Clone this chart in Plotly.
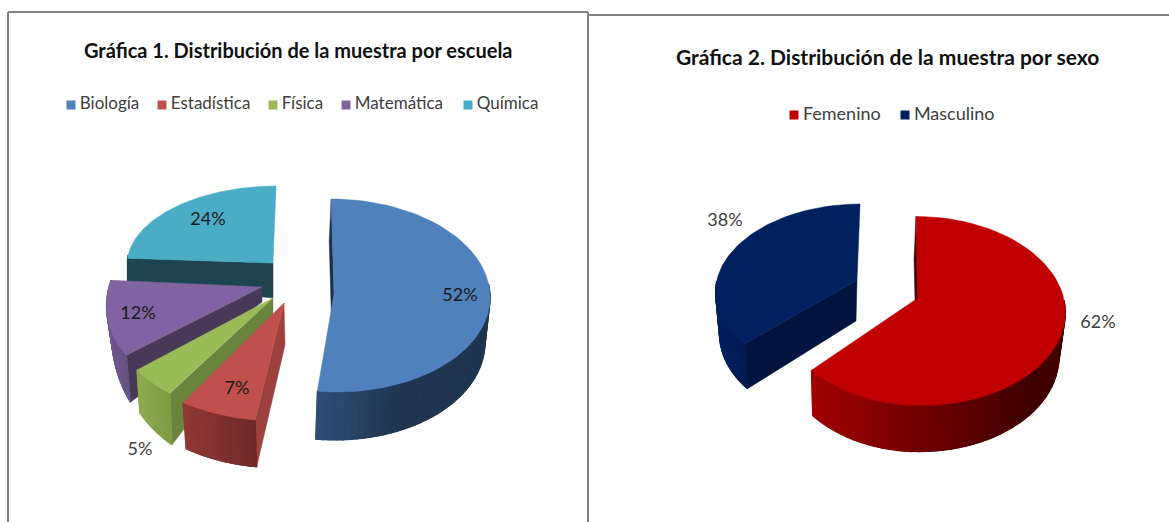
import math
import plotly.graph_objects as go

# ---- data ----
escuelas = ["Biología", "Estadística", "Física", "Matemática", "Química"]
escuela_pct = [52, 7, 5, 12, 24]
sexos = ["Femenino", "Masculino"]
sexo_pct = [62, 38]
titulo1 = "Gráfica 1. Distribución de la muestra por escuela"
titulo2 = "Gráfica 2. Distribución de la muestra por sexo"

FONT = "Lato"

# ---- look of every exploded wedge (position, radii, extrusion, colours) ----
G1 = [
    dict(ax=334, ay=294, rx=156, ry=96.5, dyc=1.5, k=.03, d=45, bx=-2, sx=.98, sy=1.03, top="#4F81BD", face="#1B2F49",
         sl="#2F4F78", sr="#1F3550", gx=(316, 400), lab=(460, 296), lc="#1a1a1a"),
    dict(ax=284, ay=303, rx=178, ry=118, k=-.056, d=42, bx=1, sx=.98, sy=1.04, top="#C0504D", face="#9C413F",
         sl="#8F3835", sr="#6E2A28", gx=(185, 256), lab=(237, 389), lc="#1a1a1a"),
    dict(ax=273, ay=298, rx=159, ry=113, k=-.187, d=16, bx=0, sx=.98, sy=1.37, top="#9BBB59", face="#6B843D",
         sl="#8CAA4F", sr="#7E9A46", gx=(140, 173), lab=(140, 450), lc="#404040"),
    dict(ax=262, ay=287, rx=153, ry=107, k=-.26, d=15, bx=0, sx=.97, sy=1.47, top="#8064A2", face="#483959",
         sl="#6F578E", sr="#64507F", gx=(107, 132), lab=(138, 314), lc="#1a1a1a"),
    dict(ax=273, ay=263, rx=146, ry=77, k=-.04, d=35, bx=0, sx=1, sy=3, top="#4BACC6", face="#1D444F",
         sl="#1D444F", sr="#1D444F", gx=(128, 273), lab=(208, 220), lc="#1a1a1a"),
]
G2 = [
    dict(ax=918, ay=298, rx=147, rxl=139, ry=94.5, dyc=13, k=.025, d=44, bx=-2, sx=.97, sy=1.02, a1=8, top="#C00000",
         face="#4A0000", sl="#A00000", sr="#400000", gx=(813, 1030), lab=(1098, 323), lc="#404040"),
    dict(ax=857, ay=280, rx=141, ry=86, dyc=10, k=-.04, d=41, bx=-1, sx=.965, sy=1.06, a0=8, top="#002060",
         face="#00143F", sl="#00205C", sr="#001A50", gx=(719, 746), lab=(725, 221), lc="#404040"),
]
DRAW1 = [4, 3, 2, 1, 0]
DRAW2 = [1, 0]

LEG1 = dict(y=105, marks=[71, 162, 273, 346, 468], size=17)
LEG2 = dict(y=115, marks=[794, 905], size=18)


def mix(a, b, f):
    f = max(0.0, min(1.0, f))
    pa = [int(a[i:i + 2], 16) for i in (1, 3, 5)]
    pb = [int(b[i:i + 2], 16) for i in (1, 3, 5)]
    return "rgb(%d,%d,%d)" % tuple(round(x + (y - x) * f) for x, y in zip(pa, pb))


def rim(g, t):
    s, c = math.sin(math.radians(t)), math.cos(math.radians(t))
    rx = g.get("rxl", g["rx"]) if s < 0 else g["rx"]
    dy = g.get("dyc", 0) - g["ry"] * c
    return rx * s + g["k"] * dy, dy


def upper(g, t):
    dx, dy = rim(g, t)
    return g["ax"] + dx, g["ay"] + dy


def lower(g, t):
    dx, dy = rim(g, t)
    return g["ax"] + g["bx"] + dx * g["sx"], g["ay"] + g["d"] + dy * g["sy"]


def poly(fig, pts, color):
    fig.add_trace(go.Scatter(x=[p[0] for p in pts] + [pts[0][0]], y=[p[1] for p in pts] + [pts[0][1]],
                             mode="lines", fill="toself", fillcolor=color, line=dict(color=color, width=.5),
                             hoverinfo="skip", showlegend=False, xaxis="x", yaxis="y"))


def draw_pie(fig, values, geom, order):
    total = sum(values)
    spans, acc = [], 0.0
    for v in values:
        spans.append((acc, acc + v / total * 360))
        acc += v / total * 360
    for i in order:
        g = geom[i]
        t0 = spans[i][0] + g.get("a0", 0)
        t1 = spans[i][1] + g.get("a1", 0)
        n = 72
        ts = [t0 + (t1 - t0) * j / n for j in range(n + 1)]
        # cut face at the start of the wedge
        apex_top = (g["ax"], g["ay"])
        apex_bot = (g["ax"] + g["bx"], g["ay"] + g["d"])
        poly(fig, [apex_top, upper(g, t0), lower(g, t0), apex_bot], g["face"])
        # outer wall: shaded strips, each overlapping the one before
        front = [t for t in ts if math.cos(math.radians(t)) < 0.12]
        if len(front) > 1:
            poly(fig, [upper(g, t) for t in front] + [lower(g, t) for t in reversed(front)], g["sr"])
            for a, b in zip(front[:-1], front[1:]):
                u0, u1, l1, l0 = upper(g, a), upper(g, b), lower(g, b), lower(g, a)
                f = ((u0[0] + u1[0]) / 2 - g["gx"][0]) / (g["gx"][1] - g["gx"][0])
                col = mix(g["sl"], g["sr"], f)
                fig.add_trace(go.Scatter(x=[u0[0], u1[0], l1[0], l0[0], u0[0]],
                                         y=[u0[1], u1[1], l1[1], l0[1], u0[1]], mode="lines", fill="toself",
                                         fillcolor=col, line=dict(color=col, width=1.2), hoverinfo="skip",
                                         showlegend=False))
        # top face
        poly(fig, [apex_top] + [upper(g, t) for t in ts], g["top"])


def labels(fig, values, geom):
    fig.add_trace(go.Scatter(x=[g["lab"][0] for g in geom], y=[g["lab"][1] for g in geom], mode="text",
                             text=["%d%%" % v for v in values],
                             textfont=dict(family=FONT, size=18, color=[g["lc"] for g in geom]),
                             textposition="middle center", hoverinfo="skip", showlegend=False))


def key(fig, names, geom, leg):
    fig.add_trace(go.Scatter(x=leg["marks"], y=[leg["y"]] * len(names), mode="markers+text",
                             text=["\u2009" + n for n in names],
                             textposition="middle right",
                             textfont=dict(family=FONT, size=leg["size"], color="#404040"),
                             marker=dict(symbol="square", size=9, color=[g["top"] for g in geom]),
                             hoverinfo="skip", showlegend=False))


fig = go.Figure()
draw_pie(fig, escuela_pct, G1, DRAW1)
draw_pie(fig, sexo_pct, G2, DRAW2)
labels(fig, escuela_pct, G1)
labels(fig, sexo_pct, G2)
key(fig, escuelas, G1, LEG1)
key(fig, sexos, G2, LEG2)

frame = dict(color="#808080", width=2)
fig.update_layout(
    width=1169, height=522, margin=dict(l=0, r=0, t=0, b=0),
    paper_bgcolor="white", plot_bgcolor="white", showlegend=False,
    xaxis=dict(range=[0, 1169], visible=False, fixedrange=True),
    yaxis=dict(range=[522, 0], visible=False, fixedrange=True),
    shapes=[
        dict(type="line", xref="x", yref="y", x0=8, x1=8, y0=12, y1=522, line=frame),
        dict(type="line", xref="x", yref="y", x0=8, x1=588, y0=12, y1=12, line=frame),
        dict(type="line", xref="x", yref="y", x0=588, x1=588, y0=12, y1=522, line=frame),
        dict(type="line", xref="x", yref="y", x0=588, x1=1169, y0=15, y1=15, line=frame),
    ],
    annotations=[
        dict(text="<b>%s</b>" % titulo1, x=298, y=50, xref="x", yref="y", showarrow=False,
             font=dict(family=FONT, size=20, color="#111111")),
        dict(text="<b>%s</b>" % titulo2, x=887, y=56, xref="x", yref="y", showarrow=False,
             font=dict(family=FONT, size=21, color="#111111")),
    ],
)
fig.write_html("out.html", config=dict(displayModeBar=False),
               post_script="document.body.style.margin='0';")
